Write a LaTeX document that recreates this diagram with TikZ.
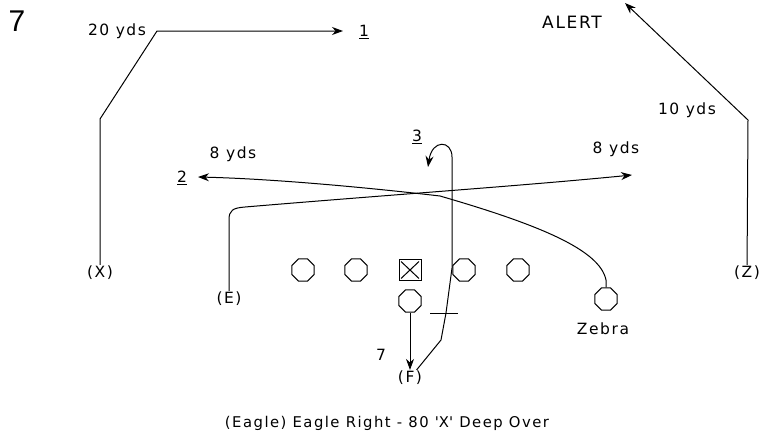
\documentclass[tikz,border=0pt]{standalone}
\usepackage{fontspec}
\setmainfont{DejaVu Sans}
\newfontfamily\playfont[LetterSpace=10]{DejaVu Sans}
\newfontfamily\bignumfont{Liberation Sans}
\usetikzlibrary{shapes, arrows.meta, positioning}

\begin{document}
\begin{tikzpicture}[x=1pt, y=-1pt,
		lineman/.style={draw, regular polygon, regular polygon sides=8, minimum size=24pt, inner sep=0pt, line width=1pt},
		snapbox/.style={draw, rectangle, minimum width=22pt, minimum height=21pt, inner sep=0pt, line width=1pt,
			path picture={\draw[line width=1pt] ([shift={(2pt,2pt)}]path picture bounding box.south west) -- ([shift={(-2pt,-2pt)}]path picture bounding box.north east)
				([shift={(2pt,-2pt)}]path picture bounding box.north west) -- ([shift={(-2pt,2pt)}]path picture bounding box.south east);}},
		player/.style={font=\playfont\fontsize{15.5}{17}\selectfont, inner sep=1pt},
		tag/.style={font=\playfont\fontsize{15.5}{17}\selectfont, inner sep=1pt},
		route/.style={line width=1pt},
		run/.style={route, -{Stealth[length=11pt, width=8pt]}}
		]
		\useasboundingbox (0,0) rectangle (761,442);
		
		% Play number and call
		\node[font=\bignumfont\fontsize{30}{32}\selectfont] (playno) at (17,21) {7};
		\node[tag, font=\playfont\fontsize{17}{19}\selectfont] (alert) at (572,22) {ALERT};
		
		% Line
		\node[lineman] (lt) at (303,270) {};
		\node[lineman] (lg) at (356,270) {};
		\node[snapbox] (ctr) at (410,270) {};
		\node[lineman] (rg) at (464,270) {};
		\node[lineman] (rt) at (518,270) {};
		
		% Backs and receivers
		\node[lineman] (qb) at (410,301) {};
		\node[lineman] (zebra) at (606,299) {};
		\node[tag] (zebratag) at (603,329) {Zebra};
		\node[player] (x) at (100,273) {(X)};
		\node[player] (e) at (229,299) {(E)};
		\node[player] (z) at (747,273) {(Z)};
		\node[player] (f) at (410,378) {(F)};
		
		% Route ends
		\coordinate (xend) at (343,31);
		\coordinate (zend) at (625,3);
		\coordinate (eend) at (632,175);
		\coordinate (twoend) at (198,177);
		\coordinate (threeend) at (428,167);
		
		% X: 20 yds and in
		\draw[run] (x) -- (100,119) -- (157,31) -- (xend);
		\node[tag] (x20) at (117,31) {20 yds};
		\node[tag] (onetag) at (364,32) {\underline{1}};
		
		% Z: 10 yds and post
		\draw[run] (z) -- (748,120) -- (zend);
		\node[tag] (z10) at (687,110) {10 yds};
		
		% E: 8 yds over
		\draw[run] (e) -- (229,220) .. controls (229,210) and (233,208) .. (245,207) .. controls (400,194) and (520,186) .. (eend);
		\node[tag] (e8) at (616,149) {8 yds};
		
		% Zebra: under to the left
		\draw[run] (zebra) -- (606,280) .. controls (600,250) and (540,225) .. (440,196) .. controls (380,189) and (280,179) .. (twoend);
		\node[tag] (zb8) at (233,154) {8 yds};
		\node[tag] (twotag) at (182,178) {\underline{2}};
		
		% F: check, then up the middle and hook
		\draw[run] (f) -- (441,340) -- (446,313) -- (452,268) -- (452,157) .. controls (452,140) and (432,139) .. (threeend);
		\draw[route] (430,313) -- (458,313);
		\node[tag] (threetag) at (417,137) {\underline{3}};
		
		% QB drop
		\draw[run] (qb) -- (f);
		\node[tag] (seven) at (381,355) {7};
		
		\node[tag, font=\playfont\fontsize{14.8}{16}\selectfont] (caption) at (387,423) {(Eagle) Eagle Right - 80 \textquotesingle X\textquotesingle{} Deep Over};
		
	\end{tikzpicture}
\end{document}
